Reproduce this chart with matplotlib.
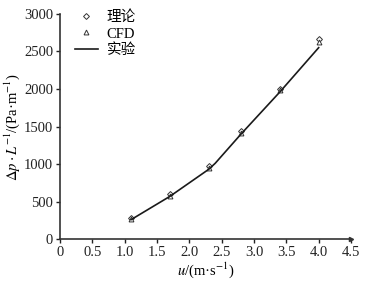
import matplotlib
matplotlib.use("Agg")
import matplotlib.pyplot as plt

plt.rcParams['font.family'] = ['Liberation Serif', 'Noto Sans CJK SC']
plt.rcParams['mathtext.fontset'] = 'stix'

# 数据
u_theory = [1.1, 1.7, 2.3, 2.8, 3.4, 4.0]
dp_theory = [285, 600, 970, 1440, 2000, 2670]
u_cfd = [1.1, 1.7, 2.3, 2.8, 3.4, 4.0]
dp_cfd = [270, 580, 945, 1410, 1980, 2630]
u_exp = [1.1, 1.7, 2.3, 2.4, 2.8, 3.4, 4.0]
dp_exp = [260, 570, 930, 1010, 1400, 1960, 2550]

fig = plt.figure(figsize=(3.66, 2.83), dpi=100)
ax = fig.add_axes([0.164, 0.155, 0.795, 0.796])

ax.plot(u_theory, dp_theory, linestyle='none', marker='D', ms=3, mfc='white',
        mec='#333333', mew=0.7, label='理论')
ax.plot(u_cfd, dp_cfd, linestyle='none', marker='^', ms=3.5, mfc='white',
        mec='#333333', mew=0.7, label='CFD')
ax.plot(u_exp, dp_exp, color='#1a1a1a', lw=1.2, label='实验')

ax.set_xlim(0, 4.5)
ax.set_ylim(0, 3000)
ax.set_xticks([0, 0.5, 1.0, 1.5, 2.0, 2.5, 3.0, 3.5, 4.0, 4.5])
ax.set_xticklabels(['0', '0.5', '1.0', '1.5', '2.0', '2.5', '3.0', '3.5', '4.0', '4.5'])
ax.set_yticks([0, 500, 1000, 1500, 2000, 2500, 3000])

for s in ['top', 'right']:
    ax.spines[s].set_visible(False)
for s in ['left', 'bottom']:
    ax.spines[s].set_linewidth(1.2)
    ax.spines[s].set_color('#333333')
ax.tick_params(direction='out', length=3, width=1, labelsize=10.5, pad=2, colors='#222222')

# x轴末端箭头
ax.plot(1, 0, '>', color='#333333', ms=3, transform=ax.transAxes, clip_on=False)

ax.set_xlabel(r'$u$/(m·s$^{-1}$)', fontsize=10.5, labelpad=1)
ax.set_ylabel(r'$\Delta p\cdot L^{-1}$/(Pa·m$^{-1}$)', fontsize=10.5, labelpad=1)

ax.legend(loc='upper left', bbox_to_anchor=(0.03, 1.04), frameon=False, fontsize=10.5,
          handlelength=1.6, handletextpad=0.6, labelspacing=0.2, borderaxespad=0)

fig.savefig('out.png', dpi=100)
